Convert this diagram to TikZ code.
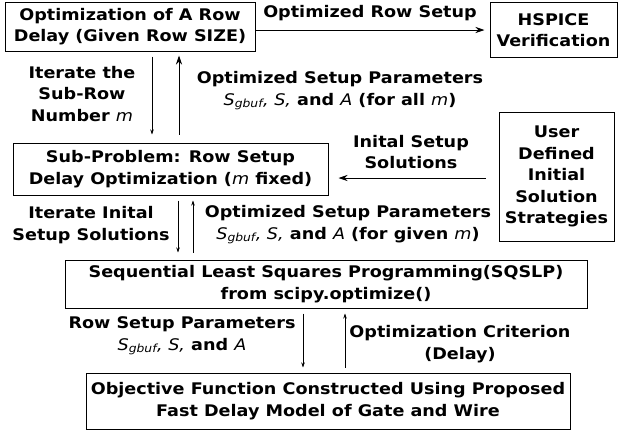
\documentclass[tikz,border=0pt]{standalone}
\usepackage{fontspec}
\setmainfont[FakeStretch=1.1]{DejaVu Sans}
\usepackage{tikz}
\usetikzlibrary{arrows.meta}

\newcommand{\itv}[1]{{\mdseries\itshape #1}}

\begin{document}
\begin{tikzpicture}[x=1pt, y=-1pt, >={Stealth[length=5pt,width=3.5pt]},
  font=\bfseries\fontsize{16}{21.5}\selectfont,
  box/.style={draw, line width=1pt, align=center, inner sep=0pt},
  lbl/.style={align=center, inner sep=0pt},
  link/.style={->, line width=0.6pt},
  widelink/.style={-{Stealth[length=9pt,width=6pt]}, line width=0.8pt}]
\useasboundingbox (0,0) rectangle (633,437);
% boxes
\node (rowopt) at (130,26.5) [box, minimum width=250pt, minimum height=49pt] {Optimization of A Row\\Delay (Given Row SIZE)};
\node (hspice) at (553.5,30) [box, minimum width=127pt, minimum height=55pt] {HSPICE\\Verification};
\node (subprob) at (170.5,169) [box, minimum width=315pt, minimum height=52pt] {Sub-Problem: Row Setup\\Delay Optimization (\itv{m} fixed)};
\node (user) at (556.5,176.5) [box, minimum width=115pt, minimum height=129pt] {User\\Defined\\Initial\\Solution\\Strategies};
\node (sqslp) at (326,284) [box, minimum width=522pt, minimum height=48pt] {Sequential Least Squares Programming(SQSLP)\\from scipy.optimize()};
\node (objfun) at (328,401) [box, minimum width=484pt, minimum height=56pt] {Objective Function Constructed Using Proposed\\Fast Delay Model of Gate and Wire};
% labels
\node (rowlbl) at (370,13) [lbl] {Optimized Row Setup};
\node (iterm) at (82,94) [lbl] {Iterate the\\Sub-Row\\Number \itv{m}};
\node (allm) at (340,91) [lbl] {Optimized Setup Parameters\\\itv{S\textsubscript{gbuf}, S,} and \itv{A} (for all \itv{m})};
\node (initlbl) at (411,152) [lbl] {Inital Setup\\Solutions};
\node (iterinit) at (91,225) [lbl] {Iterate Inital\\Setup Solutions};
\node (givenm) at (348,225) [lbl] {Optimized Setup Parameters\\\itv{S\textsubscript{gbuf}, S,} and \itv{A} (for given \itv{m})};
\node (rowparam) at (182,336) [lbl] {Row Setup Parameters\\\itv{S\textsubscript{gbuf}, S,} and \itv{A}};
\node (crit) at (460,344) [lbl] {Optimization Criterion\\(Delay)};
% x positions of the vertical arrows
\coordinate (a1) at (152,0);
\coordinate (a2) at (179,0);
\coordinate (b1) at (178,0);
\coordinate (b2) at (193,0);
\coordinate (c1) at (303,0);
\coordinate (c2) at (345,0);
% arrows
\draw[widelink, shorten >=5pt] (rowopt.east |- hspice) -- (hspice.west);
\draw[link, shorten <=5pt, shorten >=8pt] (rowopt.south -| a1) -- (subprob.north -| a1);
\draw[widelink, shorten <=8pt, shorten >=4pt] (subprob.north -| a2) -- (rowopt.south -| a2);
\draw[widelink, shorten <=13pt, shorten >=10pt] (user.west |- 0,178) -- (subprob.east |- 0,178);
\draw[link, shorten <=5pt, shorten >=7pt] (subprob.south -| b1) -- (sqslp.north -| b1);
\draw[link, shorten <=7pt, shorten >=5pt] (sqslp.north -| b2) -- (subprob.south -| b2);
\draw[link, shorten <=5pt, shorten >=5pt] (sqslp.south -| c1) -- (objfun.north -| c1);
\draw[link, shorten <=5pt, shorten >=5pt] (objfun.north -| c2) -- (sqslp.south -| c2);
\end{tikzpicture}
\end{document}
